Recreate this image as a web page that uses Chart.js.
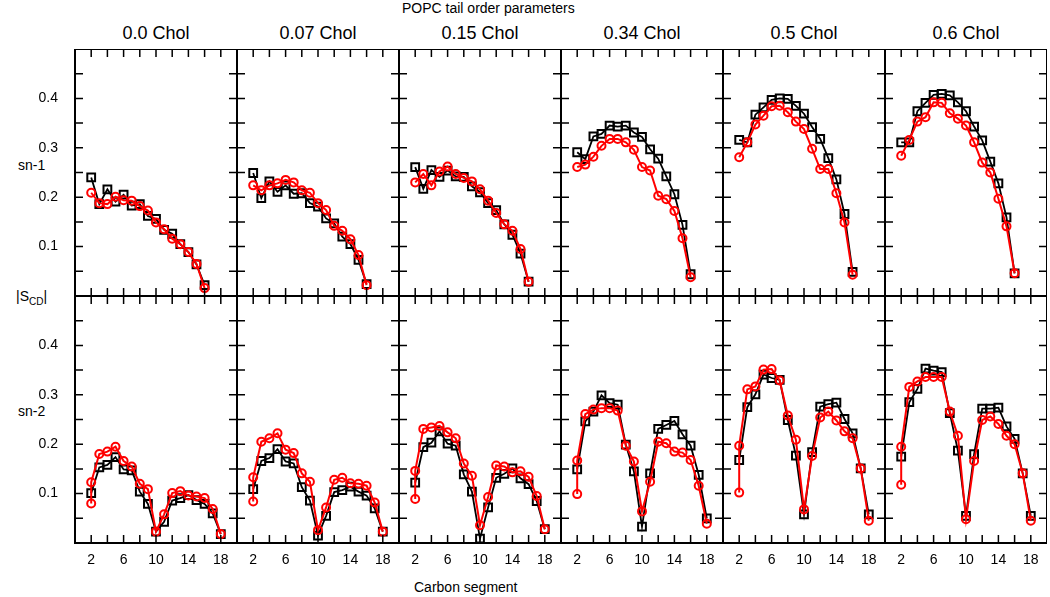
<!DOCTYPE html>
<html>
<head>
<meta charset="utf-8">
<script src="https://cdn.jsdelivr.net/npm/chart.js@4.4.0/dist/chart.umd.min.js"></script>
<style>
  body { margin: 0; background: #fff; font-family: "Liberation Sans", Arial, sans-serif; }
  #wrap { position: relative; width: 1050px; height: 597px; overflow: hidden; }
  canvas { position: absolute; }
  .lbl { position: absolute; color: #000; white-space: nowrap; }
  .col { font-size: 18px; text-align: center; width: 162px; top: 23px; }
</style>
</head>
<body>
<div id="wrap">
  <div class="lbl" style="left:402px; top:0px; font-size:14px;">POPC tail order parameters</div>
  <div class="lbl" style="left:18px; top:157px; font-size:14px;">sn-1</div>
  <div class="lbl" style="left:18px; top:403px; font-size:14px;">sn-2</div>
  <div class="lbl" style="left:16px; top:288px; font-size:14px;">|S<sub style="font-size:10px">CD</sub>|</div>
  <div class="lbl" style="left:414px; top:579px; font-size:14px;">Carbon segment</div>
</div>
<script>
// cholesterol fractions (one column each)
const cholLabels = ["0.0 Chol", "0.07 Chol", "0.15 Chol", "0.34 Chol", "0.5 Chol", "0.6 Chol"];

// carbon numbers
const carbonsSn1 = [2, 3, 4, 5, 6, 7, 8, 9, 10, 11, 12, 13, 14, 15, 16];
const carbonsSn2 = [2, 3, 4, 5, 6, 7, 8, 9, 10, 11, 12, 13, 14, 15, 16, 17, 18];
const carbonsSn2Red = [2, 2, 3, 4, 5, 6, 7, 8, 9, 10, 11, 12, 13, 14, 15, 16, 17, 18];

// sn-1, black squares
const sn1Black00 = [0.240, 0.186, 0.216, 0.191, 0.205, 0.183, 0.186, 0.162, 0.156, 0.134, 0.126, 0.105, 0.089, 0.064, 0.022];
const sn1Black007 = [0.249, 0.198, 0.232, 0.211, 0.224, 0.207, 0.208, 0.188, 0.181, 0.157, 0.147, 0.120, 0.105, 0.073, 0.024];
const sn1Black015 = [0.261, 0.217, 0.255, 0.241, 0.254, 0.242, 0.241, 0.222, 0.210, 0.188, 0.174, 0.145, 0.124, 0.086, 0.029];
const sn1Black034 = [0.291, 0.277, 0.323, 0.328, 0.345, 0.343, 0.345, 0.331, 0.322, 0.297, 0.278, 0.242, 0.206, 0.144, 0.044];
const sn1Black05 = [0.316, 0.311, 0.367, 0.382, 0.397, 0.400, 0.399, 0.385, 0.369, 0.342, 0.318, 0.279, 0.236, 0.166, 0.049];
const sn1Black06 = [0.311, 0.311, 0.374, 0.391, 0.407, 0.409, 0.406, 0.392, 0.374, 0.343, 0.315, 0.272, 0.228, 0.159, 0.046];

// sn-1, red circles
const sn1Red00 = [0.209, 0.188, 0.186, 0.201, 0.194, 0.193, 0.182, 0.173, 0.149, 0.135, 0.116, 0.105, 0.089, 0.065, 0.016];
const sn1Red007 = [0.224, 0.214, 0.224, 0.228, 0.235, 0.230, 0.214, 0.209, 0.188, 0.174, 0.142, 0.132, 0.115, 0.083, 0.022];
const sn1Red015 = [0.230, 0.247, 0.224, 0.252, 0.262, 0.247, 0.239, 0.232, 0.216, 0.193, 0.168, 0.145, 0.132, 0.095, 0.029];
const sn1Red034 = [0.261, 0.266, 0.282, 0.304, 0.318, 0.318, 0.311, 0.296, 0.261, 0.254, 0.203, 0.196, 0.172, 0.117, 0.038];
const sn1Red05 = [0.281, 0.311, 0.347, 0.365, 0.384, 0.385, 0.372, 0.353, 0.338, 0.298, 0.257, 0.257, 0.208, 0.149, 0.043];
const sn1Red06 = [0.284, 0.316, 0.353, 0.362, 0.392, 0.391, 0.370, 0.359, 0.345, 0.311, 0.270, 0.250, 0.197, 0.141, 0.046];

// sn-2, black squares
const sn2Black00 = [0.101, 0.153, 0.158, 0.174, 0.149, 0.147, 0.104, 0.079, 0.023, 0.043, 0.086, 0.091, 0.097, 0.087, 0.079, 0.060, 0.018];
const sn2Black007 = [0.109, 0.166, 0.172, 0.190, 0.165, 0.161, 0.113, 0.086, 0.015, 0.055, 0.103, 0.107, 0.114, 0.104, 0.096, 0.070, 0.023];
const sn2Black015 = [0.122, 0.194, 0.203, 0.226, 0.201, 0.197, 0.139, 0.104, 0.009, 0.072, 0.132, 0.140, 0.151, 0.131, 0.119, 0.085, 0.028];
const sn2Black034 = [0.149, 0.246, 0.266, 0.299, 0.283, 0.280, 0.199, 0.145, 0.033, 0.141, 0.231, 0.239, 0.247, 0.220, 0.197, 0.138, 0.050];
const sn2Black05 = [0.168, 0.275, 0.301, 0.341, 0.334, 0.330, 0.249, 0.177, 0.058, 0.184, 0.276, 0.281, 0.284, 0.251, 0.222, 0.151, 0.058];
const sn2Black06 = [0.175, 0.285, 0.312, 0.353, 0.349, 0.346, 0.263, 0.187, 0.055, 0.180, 0.272, 0.272, 0.274, 0.236, 0.211, 0.141, 0.055];

// sn-2, red circles (two values at C2)
const sn2Red00 = [0.080, 0.123, 0.180, 0.185, 0.195, 0.166, 0.155, 0.120, 0.109, 0.023, 0.058, 0.101, 0.105, 0.096, 0.094, 0.091, 0.069, 0.018];
const sn2Red007 = [0.084, 0.133, 0.205, 0.212, 0.222, 0.189, 0.182, 0.141, 0.124, 0.026, 0.072, 0.128, 0.132, 0.121, 0.120, 0.116, 0.082, 0.023];
const sn2Red015 = [0.089, 0.146, 0.231, 0.234, 0.237, 0.224, 0.212, 0.161, 0.136, 0.036, 0.093, 0.157, 0.155, 0.143, 0.145, 0.134, 0.095, 0.028];
const sn2Red034 = [0.099, 0.167, 0.261, 0.270, 0.273, 0.273, 0.268, 0.197, 0.165, 0.064, 0.124, 0.205, 0.202, 0.185, 0.183, 0.168, 0.116, 0.039];
const sn2Red05 = [0.102, 0.197, 0.311, 0.317, 0.351, 0.352, 0.329, 0.258, 0.209, 0.068, 0.176, 0.254, 0.266, 0.248, 0.226, 0.212, 0.151, 0.045];
const sn2Red06 = [0.118, 0.195, 0.316, 0.327, 0.336, 0.336, 0.336, 0.266, 0.217, 0.048, 0.166, 0.249, 0.256, 0.241, 0.217, 0.200, 0.141, 0.045];

const blackRows = [
  [sn1Black00, sn1Black007, sn1Black015, sn1Black034, sn1Black05, sn1Black06],
  [sn2Black00, sn2Black007, sn2Black015, sn2Black034, sn2Black05, sn2Black06]
];
const redRows = [
  [sn1Red00, sn1Red007, sn1Red015, sn1Red034, sn1Red05, sn1Red06],
  [sn2Red00, sn2Red007, sn2Red015, sn2Red034, sn2Red05, sn2Red06]
];

const xTickLabels = [2, 6, 10, 14, 18];
const yTickLabels = [0.1, 0.2, 0.3, 0.4];

const panelLeft = 75, panelTop = 49, panelW = 162, panelH = 247;
const FONT = "'Liberation Sans', Arial, sans-serif";

// frame with inward ticks on all four sides
const frameTicks = {
    id: "frameTicks",
    afterDatasetsDraw(chart) {
        const { ctx, chartArea: a, scales } = chart;
        const x = scales.x, y = scales.y;
        const t = 8;
        ctx.save();
        ctx.strokeStyle = "#000";
        ctx.lineWidth = 1.5;
        ctx.beginPath();
        for (let v = 2; v <= 18; v += 2) {
            const px = x.getPixelForValue(v);
            ctx.moveTo(px, a.bottom); ctx.lineTo(px, a.bottom - t);
            ctx.moveTo(px, a.top); ctx.lineTo(px, a.top + t);
        }
        for (let k = 1; k <= 9; k++) {
            const py = y.getPixelForValue(k * 0.05);
            ctx.moveTo(a.left, py); ctx.lineTo(a.left + t, py);
            ctx.moveTo(a.right, py); ctx.lineTo(a.right - t, py);
        }
        ctx.stroke();
        ctx.lineWidth = 2;
        ctx.strokeRect(a.left, a.top, a.right - a.left, a.bottom - a.top);
        ctx.restore();
    }
};

const wrap = document.getElementById("wrap");

cholLabels.forEach((name, c) => {
    const d = document.createElement("div");
    d.className = "lbl col";
    d.style.left = (panelLeft + c * panelW) + "px";
    d.textContent = name;
    wrap.appendChild(d);
});

function points(xs, ys) {
    return xs.map((x, i) => ({ x: x, y: ys[i] }));
}

for (let r = 0; r < 2; r++) {
    for (let c = 0; c < 6; c++) {
        const L = c === 0 ? 60 : 0;
        const B = r === 1 ? 30 : 0;
        const canvas = document.createElement("canvas");
        canvas.width = panelW + L;
        canvas.height = panelH + B;
        canvas.style.left = (panelLeft + c * panelW - L) + "px";
        canvas.style.top = (panelTop + r * panelH) + "px";
        canvas.style.width = canvas.width + "px";
        canvas.style.height = canvas.height + "px";
        wrap.appendChild(canvas);

        const xsBlack = r === 0 ? carbonsSn1 : carbonsSn2;
        const xsRed = r === 0 ? carbonsSn1 : carbonsSn2Red;

        new Chart(canvas.getContext("2d"), {
            type: "scatter",
            data: {
                datasets: [
                    {
                        label: "red",
                        data: points(xsRed, redRows[r][c]),
                        showLine: true,
                        borderColor: "#ff0000",
                        borderWidth: 2,
                        pointStyle: "circle",
                        pointRadius: 4,
                        pointBorderWidth: 2,
                        pointBorderColor: "#ff0000",
                        pointBackgroundColor: "rgba(0,0,0,0)"
                    },
                    {
                        label: "black",
                        data: points(xsBlack, blackRows[r][c]),
                        showLine: true,
                        borderColor: "#000",
                        borderWidth: 1.8,
                        pointStyle: "rect",
                        pointRadius: 5.5,
                        pointBorderWidth: 2,
                        pointBorderColor: "#000",
                        pointBackgroundColor: "rgba(0,0,0,0)"
                    }
                ]
            },
            options: {
                responsive: false,
                animation: false,
                devicePixelRatio: 1,
                layout: { padding: 0, autoPadding: false },
                plugins: { legend: { display: false }, tooltip: { enabled: false } },
                scales: {
                    x: {
                        type: "linear",
                        min: 0, max: 20,
                        display: r === 1,
                        afterFit: s => { s.height = B; s.paddingLeft = 0; s.paddingRight = 0; },
                        grid: { display: false },
                        border: { display: false },
                        ticks: {
                            stepSize: 2,
                            autoSkip: false,
                            maxRotation: 0,
                            padding: 1,
                            color: "#000",
                            font: { family: FONT, size: 14 },
                            callback: v => xTickLabels.includes(Math.round(v)) && Math.abs(v - Math.round(v)) < 1e-6 ? String(Math.round(v)) : ""
                        }
                    },
                    y: {
                        type: "linear",
                        min: 0, max: 0.5,
                        display: c === 0,
                        afterFit: s => { s.width = L; s.paddingTop = 0; s.paddingBottom = 0; },
                        grid: { display: false },
                        border: { display: false },
                        ticks: {
                            stepSize: 0.05,
                            autoSkip: false,
                            padding: 9,
                            color: "#000",
                            font: { family: FONT, size: 14 },
                            callback: v => {
                                const hit = yTickLabels.find(t => Math.abs(t - v) < 1e-6);
                                return hit !== undefined ? hit.toFixed(1) : "";
                            }
                        }
                    }
                }
            },
            plugins: [frameTicks]
        });
    }
}
</script>
</body>
</html>
